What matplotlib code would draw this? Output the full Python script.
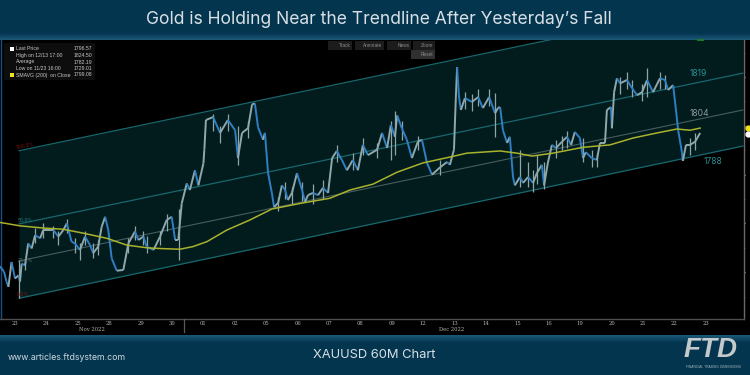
import matplotlib
matplotlib.use("Agg")
import matplotlib.pyplot as plt
import numpy as np
from matplotlib.collections import LineCollection
from matplotlib.colors import LinearSegmentedColormap
from matplotlib.patches import Rectangle

# Tick labels, one per trading session
day_labels = ["23", "24", "25", "28", "29", "30", "01", "02", "05", "06", "07", "08",
              "09", "12", "13", "14", "15", "16", "19", "20", "21", "22", "23"]

# Price path (x in sessions since 23 Nov)
price_x = [-0.48, -0.35, -0.27, -0.21, -0.11, 0, 0.11, 0.16, 0.21, 0.32, 0.42, 0.53, 0.64, 0.8, 0.9,
           1.06, 1.22, 1.38, 1.54, 1.65, 1.8, 1.91, 2.07, 2.23, 2.39, 2.49, 2.65, 2.76, 2.87, 2.97,
           3.08, 3.24, 3.45, 3.61, 3.82, 3.93, 4.09, 4.19, 4.41, 4.62, 4.83, 4.99, 5.1, 5.2, 5.31,
           5.47, 5.57, 5.73, 5.84, 6.0, 6.03, 6.08, 6.31, 6.53, 6.78, 7.01, 7.1, 7.23, 7.42, 7.55,
           7.64, 7.74, 7.9, 7.96, 8.06, 8.18, 8.25, 8.38, 8.5, 8.6, 8.69, 8.82, 8.98, 9.14, 9.24,
           9.33, 9.49, 9.65, 9.81, 9.97, 10.1, 10.25, 10.41, 10.57, 10.76, 10.92, 11.08, 11.24, 11.53,
           11.69, 11.85, 11.97, 12.1, 12.17, 12.32, 12.48, 12.64, 12.83, 12.96, 13.12, 13.28, 13.54,
           13.76, 13.85, 13.98, 14.04, 14.08, 14.14, 14.2, 14.33, 14.55, 14.75, 14.9, 15.1, 15.29,
           15.38, 15.45, 15.54, 15.67, 15.76, 15.86, 15.92, 16.08, 16.18, 16.34, 16.5, 16.62, 16.78,
           16.85, 16.97, 17.1, 17.23, 17.42, 17.58, 17.71, 17.83, 17.99, 18.09, 18.18, 18.37, 18.53,
           18.63, 18.79, 18.85, 18.98, 19.01, 19.08, 19.17, 19.27, 19.49, 19.65, 19.81, 19.97, 20.13,
           20.32, 20.54, 20.7, 20.8, 20.96, 21.05, 21.12, 21.24, 21.27, 21.37, 21.5, 21.66, 21.82]
price_y = [1742.4, 1740.2, 1736.1, 1734, 1744.2, 1737.4, 1738.7, 1736.1, 1743.5, 1742.8, 1751.8, 1749.7,
           1755.2, 1753.9, 1757.3, 1757.3, 1757.3, 1754.6, 1757.3, 1760, 1752.5, 1751.8, 1749.1, 1754.6,
           1751.1, 1747.8, 1750.5, 1758.6, 1762.7, 1757.3, 1745.6, 1740.6, 1740.9, 1751.8, 1756.7, 1753.2,
           1754.6, 1750.5, 1749.1, 1754.6, 1761.4, 1762.7, 1753.2, 1753.2, 1768.2, 1776.4, 1773.7, 1781.8,
           1775.6, 1784.6, 1790.2, 1802.4, 1803.6, 1797.1, 1802.4, 1798.2, 1786.8, 1797.1, 1799, 1808.8,
           1809.2, 1799.4, 1794.3, 1797.1, 1780.6, 1772.5, 1766.7, 1768.4, 1775.6, 1773.7, 1769.6, 1772.5,
           1780.6, 1773.7, 1768.8, 1771.6, 1772.5, 1771.6, 1774.6, 1772.5, 1786.8, 1789.7, 1786, 1781.8,
           1786, 1781.8, 1792.2, 1788, 1790.2, 1797.1, 1790.9, 1800.3, 1795.5, 1804.3, 1799, 1794.3,
           1786.8, 1793.5, 1794.3, 1784.8, 1780, 1783, 1785.2, 1784, 1790.2, 1811.8, 1824.1, 1811.8,
           1806.5, 1811.4, 1809.8, 1811.8, 1807.3, 1811.8, 1805.2, 1807.3, 1807.7, 1798.2, 1793, 1795.5,
           1779, 1775.6, 1779, 1776.6, 1779, 1776.6, 1780.6, 1784, 1775.6, 1784.8, 1792.2, 1790.9,
           1793.5, 1795.5, 1792.2, 1797.5, 1795, 1786.8, 1789.2, 1786.8, 1786, 1793, 1793, 1806.5,
           1807.7, 1799, 1813.8, 1819.5, 1817.4, 1818.8, 1815.5, 1812.6, 1813.8, 1818.8, 1813.8, 1819.5,
           1818.8, 1814.7, 1816.7, 1806.5, 1798.2, 1789.2, 1785.6, 1792.2, 1792.2, 1793.5, 1797.1]

# Wicks that stick out of the path
wick_x = [0.13, 5.22, 7.1, 11.97, 12.1, 15.29, 16.08, 16.85, 18.09, 20.13, 2.49, 4.19,
          0.32, 0.64, 0.9, 1.22, 1.38, 1.65, 1.91, 2.07, 2.23, 2.65, 3.61, 3.82, 4.09, 4.62, 4.83,
          6.31, 6.53, 6.78, 7.42, 8.38, 8.6, 8.82, 9.14, 9.49, 9.81, 10.25, 10.76, 11.08, 11.53, 12.32,
          12.83, 13.54, 14.33, 14.55, 14.75, 15.1, 16.34, 16.5, 16.62, 17.23, 17.42, 17.58, 18.37, 18.53,
          19.27, 19.49, 19.65, 19.97, 20.54, 20.7, 21.5, 21.66]
wick_low = [1729.4, 1745, 1784, 1786, 1788, 1795.3, 1775, 1774, 1785, 1812, 1746, 1748,
            1741, 1752, 1754, 1754, 1751, 1756, 1748, 1745, 1751, 1747, 1748, 1753, 1751, 1751, 1757,
            1798, 1793, 1798, 1795, 1765, 1770, 1768, 1769, 1768, 1770, 1785, 1782, 1788, 1787, 1794,
            1790, 1780, 1807, 1806, 1808, 1808, 1775, 1773, 1776, 1787, 1790, 1791, 1783, 1783,
            1813, 1815, 1812, 1810, 1815, 1815, 1788, 1790]
wick_high = [1745, 1766, 1800, 1802, 1806, 1813.4, 1790, 1785, 1795, 1823.7, 1752, 1755,
             1746, 1758, 1760, 1759, 1757, 1762, 1754, 1752, 1757, 1753, 1754, 1759, 1757, 1757, 1764,
             1805, 1800, 1805, 1802, 1771, 1777, 1775, 1777, 1776, 1778, 1792, 1789, 1795, 1793, 1802,
             1796, 1786, 1814, 1813, 1815, 1815, 1785, 1782, 1788, 1794, 1796, 1798, 1790, 1789,
             1820, 1822, 1819, 1817, 1822, 1821, 1795, 1797]

# 200 period moving average
sma_x = [-0.48, 0.16, 0.9, 1.54, 2.17, 2.92, 3.56, 4.2, 4.62, 5.25, 5.67, 6.11, 6.75, 7.48, 8.18, 9.17,
         10.03, 10.67, 11.4, 12.17, 12.99, 13.85, 14.39, 15.45, 15.99, 16.46, 17.13, 18.09, 18.95, 19.68,
         20.45, 21.08, 21.5, 21.82]
sma_y = [1760.4, 1759, 1758.1, 1757.6, 1756, 1753.9, 1751.1, 1750, 1749.7, 1749.4, 1750.5, 1752.5, 1757.3,
         1761.4, 1765.9, 1768.4, 1770.3, 1773.7, 1776.1, 1781, 1784.8, 1787.2, 1788.8, 1789.7, 1788.8, 1787.6,
         1788.8, 1791.2, 1792.2, 1795, 1797.1, 1798.7, 1798.2, 1799.08]

# Regression channel, start and end of each line
channel_x = [0.13, 23.18]
channel_top = [1789.8, 1851.8]
channel_mid = [1759.8, 1821.6]
channel_quarter = [1744.6, 1806.5]
channel_bottom = [1729.3, 1791.7]

legend_names = ["Last Price", "High on 12/13 17:00", "Average", "Low on 11/23 16:00", "SMAVG (200)  on Close"]
legend_values = ["1796.57", "1824.50", "1782.19", "1729.01", "1799.08"]
y_ticks = [1740, 1760, 1780, 1800, 1820]
y_minor = [1730, 1750, 1770, 1790, 1810, 1830]

title_font = "Inter"
navy = "#03354f"

fig = plt.figure(figsize=(7.5, 3.75), dpi=100, facecolor=navy)

# Background layer in pixel coordinates for banners and decoration
bg = fig.add_axes([0, 0, 1, 1])
bg.axis("off")
bg.add_patch(Rectangle((0, 40), 750, 295, color="black", lw=0))
fade_down = LinearSegmentedColormap.from_list("fade", [navy, "#1c5878"])
bg.imshow(np.linspace(0, 1, 20).reshape(-1, 1), extent=(0, 750, 40, 33), cmap=fade_down, aspect="auto")
bg.imshow(np.linspace(1, 0, 20).reshape(-1, 1), extent=(0, 750, 343, 335), cmap=fade_down, aspect="auto")
bg.set_xlim(0, 750)
bg.set_ylim(375, 0)

# Chart layer, the scale is set so that price and session land where they do in the picture
ax = fig.add_axes([0, (375 - 319) / 375, 744 / 750, 279 / 375], zorder=1)
ax.patch.set_alpha(0)
ax.set_xlim(-0.478, 23.217)
ax.set_ylim(1720.8, 1835.2)

ax.fill_between(channel_x, channel_bottom, channel_top, color="#021c1e", lw=0, zorder=1)
ax.plot(channel_x, channel_top, color="#17676d", lw=0.9, zorder=2)
ax.plot(channel_x, channel_mid, color="#17676d", lw=0.9, zorder=2)
ax.plot(channel_x, channel_quarter, color="#475c5e", lw=0.8, zorder=2)
ax.plot(channel_x, channel_bottom, color="#17676d", lw=0.9, zorder=2)

ax.vlines(wick_x, wick_low, wick_high, color="#8fa5a8", lw=0.9, zorder=3)

# Falling legs blue, rising legs grey
points = np.column_stack([price_x, price_y])
segments = np.stack([points[:-1], points[1:]], axis=1)
colors = ["#2f7fc4" if b < a else "#8fa8ac" for a, b in zip(price_y[:-1], price_y[1:])]
ax.add_collection(LineCollection(segments, colors=colors, linewidths=1.4, zorder=4))

ax.plot(sma_x, sma_y, color="#a9b22c", lw=1.1, zorder=5)

# Price tags sitting on the right axis
ax.plot([1.005], [float(legend_values[4])], "o", ms=3.5, color="#f2e21b", clip_on=False,
        transform=ax.get_yaxis_transform(), zorder=6)
ax.plot([1.005], [float(legend_values[0])], "o", ms=3.5, color="white", clip_on=False,
        transform=ax.get_yaxis_transform(), zorder=6)

ax.set_xticks(range(len(day_labels)))
ax.set_xticklabels(day_labels, fontsize=3.8, color="#b5b5b5", family="DejaVu Serif")
ax.tick_params(axis="x", length=0, pad=1.5)
ax.yaxis.tick_right()
ax.set_yticks(y_ticks)
# Only the first digit of each label fits in the picture
ax.set_yticklabels([str(t)[0] for t in y_ticks], fontsize=2.4, color="#c8c8c8")
ax.tick_params(axis="y", length=1, width=0.9, color="#d0d0d0", pad=0)
ax.set_yticks(y_minor, minor=True)
ax.tick_params(axis="y", which="minor", length=1, width=0.5, color="#707070")
ax.spines["top"].set_visible(False)
ax.spines["bottom"].set_color("#4e4e4e")
ax.spines["right"].set_color("#6a6a6a")
ax.spines["left"].set_color("#1c4f80")
ax.spines["left"].set_position(("outward", -1))
for side in ["bottom", "right", "left"]:
    ax.spines[side].set_linewidth(1.0)

# Top layer for everything written over the chart
top = fig.add_axes([0, 0, 1, 1], zorder=2)
top.set_xlim(0, 750)
top.set_ylim(375, 0)
top.axis("off")
top.patch.set_alpha(0)

# Channel captions
top.text(698, 74, "1819", color="#2b8d90", fontsize=6.2, ha="center", va="center", family=title_font)
top.text(699, 114, "1804", color="#8c9a9c", fontsize=6.2, ha="center", va="center", family=title_font)
top.text(713, 161, "1788", color="#2b8d90", fontsize=6.2, ha="center", va="center", family=title_font)
top.text(25, 146, "100.0%", color="#7a1515", fontsize=3.4, ha="center", va="center", rotation=10)
top.text(25, 221, "50.0%", color="#1f7f86", fontsize=3.4, ha="center", va="center")
top.text(25, 260, "25.0%", color="#5d7476", fontsize=3.4, ha="center", va="center")
top.text(23, 295, "0.0%", color="#7a1515", fontsize=3.4, ha="center", va="center")

# Legend block top left
top.add_patch(Rectangle((4, 43), 91, 37, color="#0d0d0d", lw=0))
row_y = [49, 55.6, 62, 68.5, 75]
top.add_patch(Rectangle((9.5, 47), 4, 4, color="white", lw=0))
top.add_patch(Rectangle((9.5, 73), 4, 4, color="#f2e21b", lw=0))
for name, value, y in zip(legend_names, legend_values, row_y):
    top.text(16, y, name, color="#c9c9c9", fontsize=3.7, va="center", family="Liberation Sans")
    top.text(92, y, value, color="#c9c9c9", fontsize=3.7, va="center", ha="right", family="Liberation Sans")

# Toolbar
for x0, w, y0, label in [(328, 24, 41, "Track"), (355, 29, 41, "Annotate"), (387, 24, 41, "News"),
                         (413, 22, 41, "Zoom"), (411, 24, 50, "Reset")]:
    top.add_patch(Rectangle((x0, y0), w, 8.5, color="#1c1c1c" if label != "Reset" else "#303030", lw=0))
    top.text(x0 + w - 1.5, y0 + 4.3, label, color="#8c8c8c", fontsize=3.4, ha="right", va="center",
             family="Liberation Sans")
top.add_patch(Rectangle((697, 39), 7, 1.8, color="#1c7a2c", lw=0))

# X axis captions
top.text(92, 329.5, "Nov 2022", color="#b5b5b5", fontsize=3.8, ha="center", va="center", family="DejaVu Serif")
top.text(452, 329.5, "Dec 2022", color="#b5b5b5", fontsize=3.8, ha="center", va="center", family="DejaVu Serif")
top.plot([184, 184], [319, 332], color="#5a5a5a", lw=0.9)

# Banner text
top.text(379, 19.5, "Gold is Holding Near the Trendline After Yesterday\u2019s Fall", color="#d8e0e5",
         fontsize=12.6, ha="center", va="center", family=title_font)
top.text(8, 357, "www.articles.ftdsystem.com", color="#cfd8dd", fontsize=6.3, va="center", family=title_font)
top.text(374.5, 355, "XAUUSD 60M Chart", color="#d8e0e5", fontsize=9.3, ha="center", va="center", family=title_font)

# Logo
top.text(711, 350, "FTD", color="#c4c9cc", fontsize=20, ha="center", va="center", fontweight="bold",
         style="italic", family="Liberation Sans")
top.text(714, 367.3, "FINANCIAL TRADING DIMENSIONS", color="#9fb0ba", fontsize=2.4, ha="center", va="center",
         family="Liberation Sans")

fig.savefig("out.png", dpi=100, facecolor=fig.get_facecolor())
